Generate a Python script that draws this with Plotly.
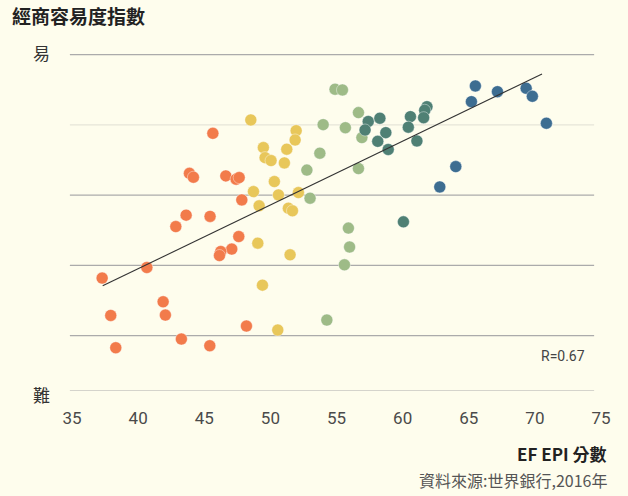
import plotly.graph_objects as go

# EF EPI score (x) vs ease-of-doing-business index (y), grouped by EPI band
orange_x = [45.65, 43.88, 44.18, 46.63, 47.41, 47.64, 47.84, 43.63, 45.44, 42.85, 47.61, 47.08,
            46.25, 46.15, 40.66, 37.28, 41.89, 37.93, 42.06, 48.19, 43.27, 45.42, 38.31]
orange_y = [78.8, 73.1, 72.55, 72.74, 72.27, 72.5, 69.32, 67.15, 66.97, 65.52, 64.1, 62.31,
            61.97, 61.4, 59.69, 58.18, 54.81, 52.86, 52.91, 51.35, 49.5, 48.55, 48.26]
yellow_x = [48.52, 51.95, 51.87, 49.47, 51.24, 49.6, 50.05, 51.06, 50.3, 48.72, 50.61, 52.12,
            49.15, 51.36, 51.67, 49.05, 51.49, 49.4, 50.56]
yellow_y = [80.71, 79.18, 77.86, 76.77, 76.54, 75.34, 74.92, 74.59, 71.93, 70.5, 70.03, 70.36,
            68.47, 68.14, 67.76, 63.16, 61.5, 57.18, 50.78]
lgreen_x = [54.89, 55.45, 56.66, 53.99, 55.67, 56.92, 53.74, 52.76, 56.66, 53.0, 55.9, 55.99,
            55.6, 54.27]
lgreen_y = [85.08, 84.98, 81.75, 80.04, 79.6, 78.19, 75.97, 73.56, 73.78, 69.56, 65.3, 62.61,
            60.07, 52.2]
teal_x = [57.4, 58.28, 57.16, 58.73, 58.12, 58.91, 60.59, 60.43, 61.08, 61.84, 61.67, 61.59, 60.06]
teal_y = [80.49, 80.95, 79.28, 78.9, 77.66, 76.5, 81.18, 79.68, 77.72, 82.6, 82.09, 81.03, 66.19]
blue_x = [65.5, 65.2, 67.17, 69.34, 69.81, 70.87, 64.02, 62.81]
blue_y = [85.55, 83.31, 84.73, 85.22, 84.08, 80.24, 74.06, 71.17]

trend_x = [37.32, 70.54]
trend_y = [57.08, 87.25]

x_ticks = [35, 40, 45, 50, 55, 60, 65, 70, 75]
grid_y = [50, 60, 70, 90]
light_grid_y = [80]
y_range = [42.1, 90.1]
x_range = [35, 75]

series = [
    (orange_x, orange_y, "#F27B4B"),
    (yellow_x, yellow_y, "#E8C75A"),
    (lgreen_x, lgreen_y, "#9EBB87"),
    (teal_x, teal_y, "#4F8074"),
    (blue_x, blue_y, "#3D6D91"),
]

BG = "#FEFDED"
fig = go.Figure()
for xs, ys, col in series:
    fig.add_trace(go.Scatter(
        x=xs, y=ys, mode="markers",
        marker=dict(size=12, color=col, line=dict(color="rgba(255,255,255,0.5)", width=0.8)),
        hoverinfo="skip", showlegend=False))

fig.add_trace(go.Scatter(x=trend_x, y=trend_y, mode="lines",
                         line=dict(color="#333333", width=1.1),
                         hoverinfo="skip", showlegend=False))

shapes = []
for gy in grid_y + [y_range[0]]:
    shapes.append(dict(type="line", xref="paper", yref="y", x0=-0.004, x1=0.987, y0=gy, y1=gy,
                       line=dict(color="#ABABAB", width=1.2), layer="below"))
for gy in light_grid_y:
    shapes.append(dict(type="line", xref="paper", yref="y", x0=-0.004, x1=0.987, y0=gy, y1=gy,
                       line=dict(color="#E6E5D8", width=1.2), layer="below"))

tick_font = dict(family="Roboto, sans-serif", size=17, color="#4A4A4A")
cjk = "Noto Sans CJK TC, Noto Sans CJK SC, sans-serif"

fig.update_layout(
    width=628, height=496,
    paper_bgcolor=BG, plot_bgcolor=BG,
    margin=dict(l=72, r=27, t=54, b=105),
    shapes=shapes,
    title=dict(text="<b>經商容易度指數</b>", x=12/628, xanchor="left", y=1 - 17/496, yanchor="middle",
               xref="container", yref="container",
               font=dict(family=cjk, size=19, color="#222222")),
    xaxis=dict(range=x_range, tickvals=x_ticks, showgrid=False, zeroline=False, showline=False,
               ticks="", tickfont=tick_font, ticklabelstandoff=15, fixedrange=True),
    yaxis=dict(range=y_range, showgrid=False, zeroline=False, showline=False,
               showticklabels=False, ticks="", fixedrange=True),
    annotations=[
        dict(text="易", xref="paper", yref="paper", x=-0.0378, y=(391 - 52.5) / 337,
             xanchor="right", yanchor="middle", showarrow=False,
             font=dict(family=cjk, size=17, color="#333333")),
        dict(text="難", xref="paper", yref="paper", x=-0.0378, y=(391 - 394) / 337,
             xanchor="right", yanchor="middle", showarrow=False,
             font=dict(family=cjk, size=17, color="#333333")),
        dict(text="R=0.67", xref="paper", yref="paper", x=(587 - 72) / 529, y=(391 - 356) / 337,
             xanchor="right", yanchor="middle", showarrow=False,
             font=dict(family=tick_font["family"], size=14, color="#444444")),
        dict(text="<b>EF EPI 分數</b>", xref="paper", yref="paper", x=(609 - 72) / 529,
             y=(391 - 454) / 337, xanchor="right", yanchor="middle", showarrow=False,
             font=dict(family=cjk, size=17, color="#222222")),
        dict(text="資料來源:世界銀行,2016年", xref="paper", yref="paper", x=(609 - 72) / 529,
             y=(391 - 480) / 337, xanchor="right", yanchor="middle", showarrow=False,
             font=dict(family=cjk, size=16, color="#555555")),
    ],
)

fig.write_html("out.html", config={"displayModeBar": False},
               post_script="document.body.style.margin='0';document.body.style.background='%s';" % BG)
